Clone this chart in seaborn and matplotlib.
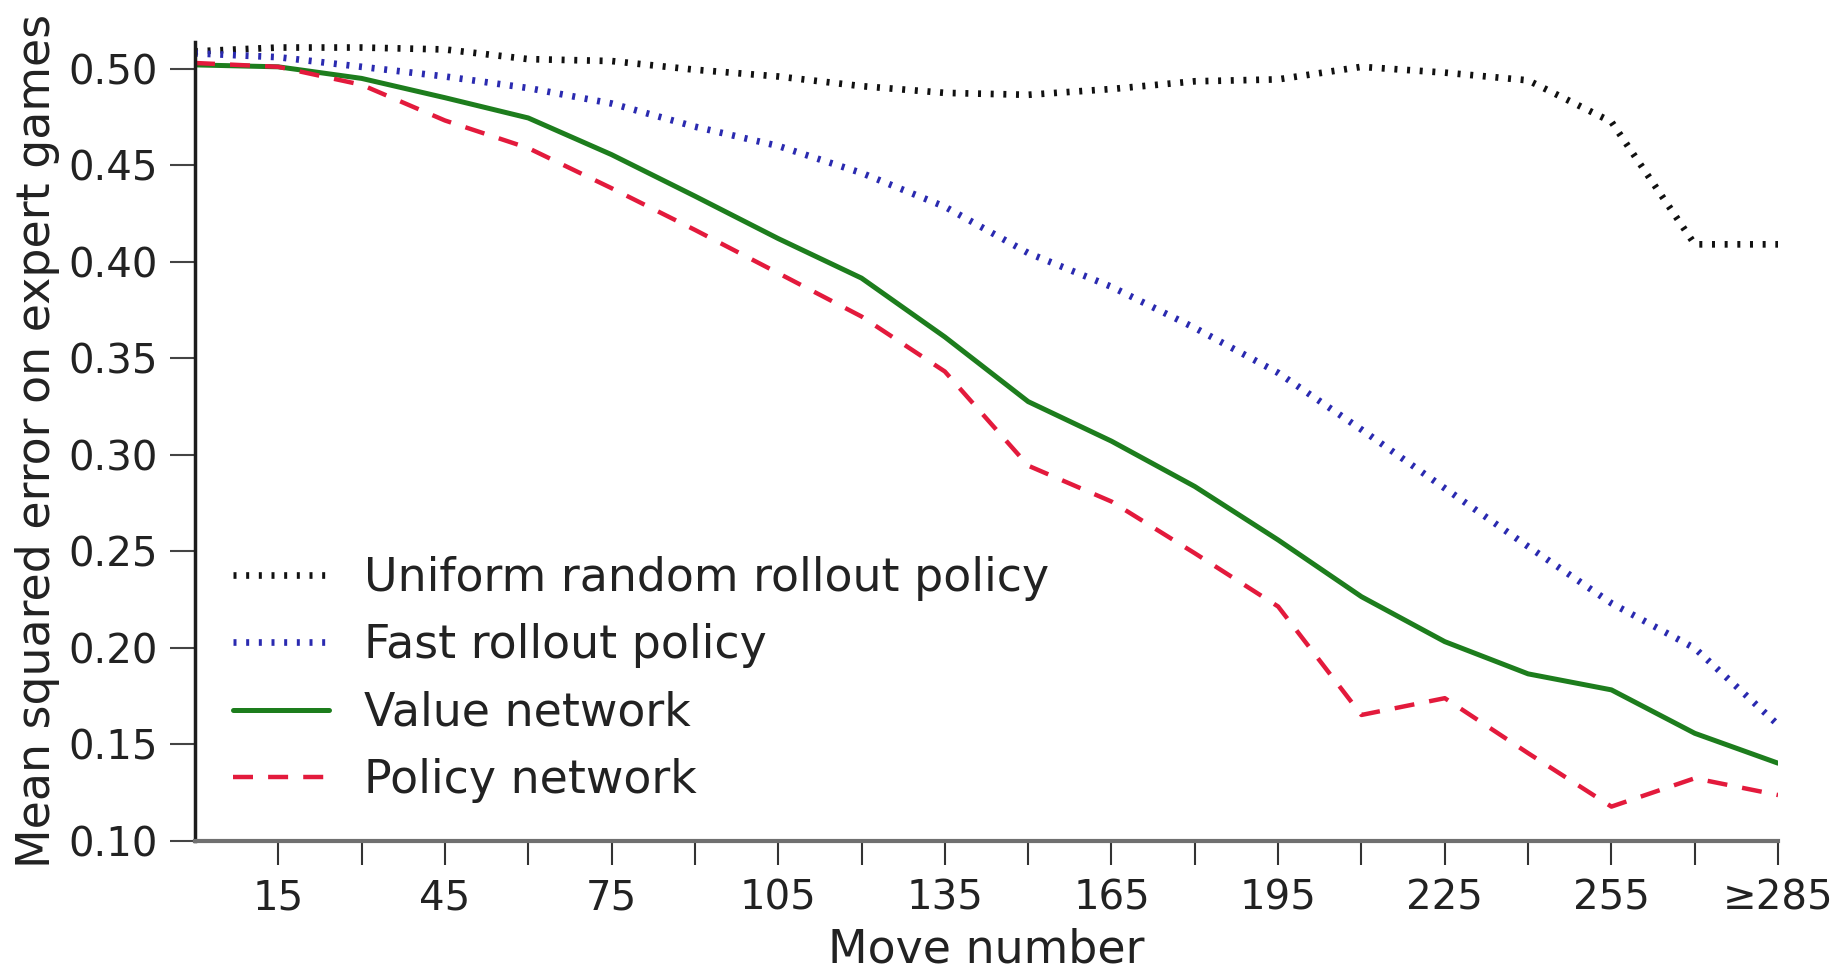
import numpy as np
import pandas as pd
import matplotlib
matplotlib.use("Agg")
import matplotlib.pyplot as plt
import seaborn as sns

# move number (>=285 bucket at the end)
moves = [0, 15, 30, 45, 60, 75, 90, 105, 120, 135, 150, 165, 180, 195, 210, 225, 240, 255, 270, 285]

uniform_random = [0.509, 0.511, 0.511, 0.510, 0.505, 0.504, 0.4995, 0.496, 0.491, 0.4875,
                  0.4865, 0.4895, 0.4935, 0.4945, 0.501, 0.498, 0.494, 0.4725, 0.409, 0.409]
fast_rollout = [0.508, 0.506, 0.501, 0.496, 0.490, 0.482, 0.470, 0.460, 0.446, 0.4285,
                0.4045, 0.387, 0.3657, 0.3424, 0.313, 0.2826, 0.2524, 0.223, 0.1997, 0.160]
value_net = [0.502, 0.501, 0.495, 0.485, 0.4745, 0.4555, 0.434, 0.412, 0.3915, 0.361,
             0.3275, 0.307, 0.2835, 0.2558, 0.2264, 0.2031, 0.1864, 0.1781, 0.1556, 0.1401]
policy_net = [0.503, 0.501, 0.4917, 0.4732, 0.4589, 0.4381, 0.4165, 0.3941, 0.3716, 0.3431,
              0.2943, 0.2757, 0.2489, 0.2213, 0.1651, 0.1738, 0.1453, 0.1176, 0.1323, 0.1236]

xtick_pos = list(range(15, 286, 15))
xtick_labels = ["15", "", "45", "", "75", "", "105", "", "135", "", "165", "",
                "195", "", "225", "", "255", "", "\u2265285"]
ytick_pos = [0.10, 0.15, 0.20, 0.25, 0.30, 0.35, 0.40, 0.45, 0.50]

sns.set_style("ticks")
plt.rcParams["font.family"] = ["DejaVu Sans"]

df = pd.DataFrame({
    "move": moves,
    "uniform": uniform_random,
    "fast": fast_rollout,
    "value": value_net,
    "policy": policy_net,
})

fig, ax = plt.subplots(figsize=(18.46, 9.73), dpi=100)
fig.subplots_adjust(left=0.1056, right=0.9632, bottom=0.1361, top=0.9571)

dot = (0, (0.45, 1.45))
sns.lineplot(data=df, x="move", y="uniform", ax=ax, color="#111111", linewidth=4.8,
             linestyle=dot, dash_capstyle="butt",
             label="Uniform random rollout policy")
sns.lineplot(data=df, x="move", y="fast", ax=ax, color="#2a2ab0", linewidth=4.8,
             linestyle=dot, dash_capstyle="butt",
             label="Fast rollout policy")
sns.lineplot(data=df, x="move", y="value", ax=ax, color="#1d7d1d", linewidth=3.6,
             label="Value network")
sns.lineplot(data=df, x="move", y="policy", ax=ax, color="#e31a3c", linewidth=3.2,
             linestyle=(0, (4.5, 3.4)), dash_capstyle="butt",
             label="Policy network")

ax.set_xlim(0, 285)
ax.set_ylim(0.10, 0.514)
ax.set_xticks(xtick_pos)
ax.set_xticklabels(xtick_labels)
ax.set_yticks(ytick_pos)
ax.set_yticklabels([f"{v:.2f}" for v in ytick_pos])

ax.tick_params(axis="x", labelsize=29, length=17, width=1.5, color="#333333",
               pad=10, labelcolor="#222222")
ax.tick_params(axis="y", labelsize=29, length=18, width=1.5, color="#444444",
               pad=9, labelcolor="#222222")

ax.set_xlabel("Move number", fontsize=33, color="#222222", labelpad=7)
ax.set_ylabel("Mean squared error on expert games", fontsize=33, color="#222222", labelpad=6)

sns.despine(ax=ax)
ax.spines["bottom"].set_color("#707070")
ax.spines["bottom"].set_linewidth(3.0)
ax.spines["left"].set_color("#1c1c1c")
ax.spines["left"].set_linewidth(2.5)

ax.legend(loc="lower left", bbox_to_anchor=(0.024, 0.047), frameon=False,
          fontsize=33, handlelength=2.1, handletextpad=0.76, labelspacing=0.49,
          borderaxespad=0, borderpad=0, labelcolor="#222222")

fig.savefig("out.png", dpi=100)
